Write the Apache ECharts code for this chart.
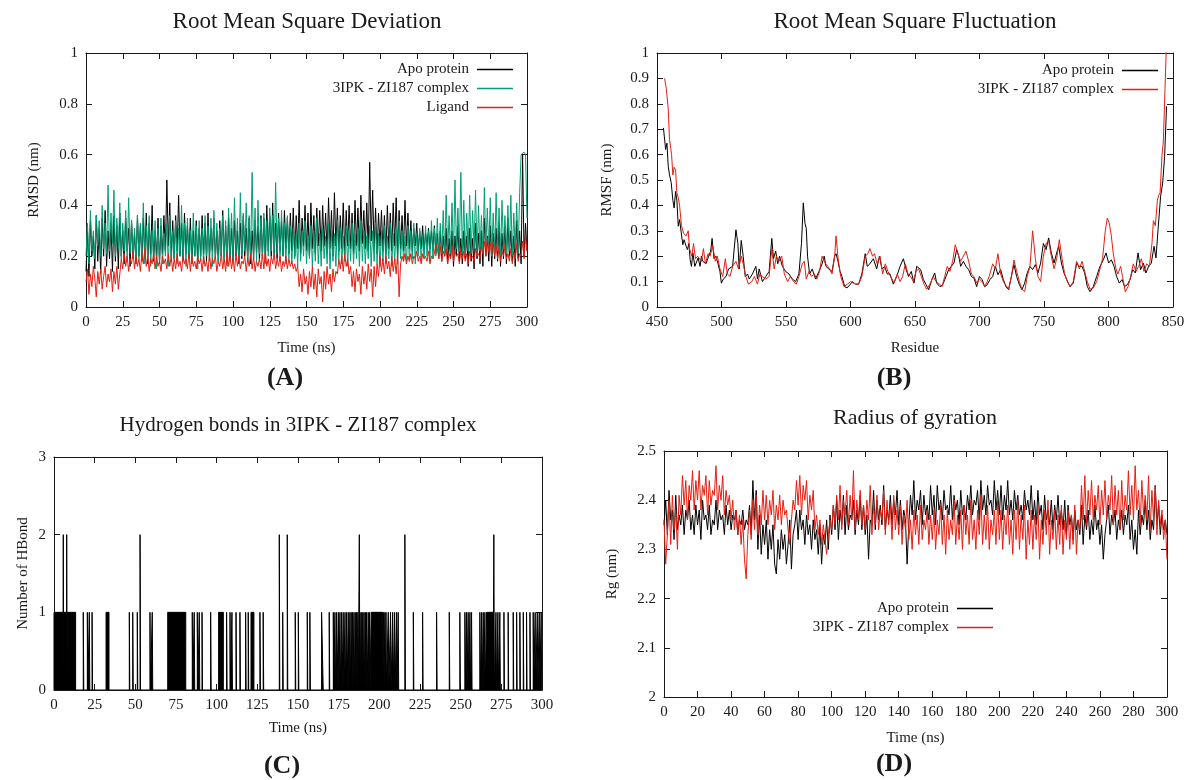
<!DOCTYPE html>
<html>
<head>
<meta charset="utf-8">
<title>3IPK - ZI187 MD analysis</title>
<script src="https://cdn.jsdelivr.net/npm/echarts@6/dist/echarts.min.js"></script>
<style>
  html, body { margin: 0; padding: 0; background: #fff; }
  #main { width: 1191px; height: 780px; }
</style>
</head>
<body>
<div id="main"></div>
<script>
// ---------- (A) RMSD, one value per ns (0..300) ----------
var rmsdStep = 1;
var rmsdApo = [
  0.14,0.3,0.12,0.34,0.2,0.28,0.15,0.36,0.18,0.31,0.13,0.35,0.2,0.38,0.16,0.3,0.19,0.33,0.14,0.36,
  0.18,0.32,0.15,0.37,0.2,0.3,0.17,0.35,0.22,0.31,0.16,0.34,0.19,0.29,0.17,0.36,0.2,0.32,0.18,0.35,
  0.19,0.37,0.17,0.33,0.21,0.4,0.18,0.3,0.2,0.35,0.17,0.32,0.21,0.36,0.22,0.5,0.24,0.41,0.2,0.34,
  0.19,0.36,0.22,0.44,0.2,0.33,0.18,0.37,0.21,0.32,0.19,0.35,0.17,0.3,0.2,0.34,0.18,0.31,0.2,0.36,
  0.21,0.33,0.18,0.37,0.2,0.31,0.22,0.35,0.19,0.3,0.18,0.34,0.2,0.38,0.19,0.32,0.17,0.35,0.19,0.31,
  0.18,0.34,0.2,0.3,0.17,0.33,0.19,0.36,0.2,0.31,0.18,0.35,0.17,0.3,0.19,0.34,0.21,0.32,0.18,0.36,
  0.2,0.35,0.19,0.4,0.22,0.36,0.2,0.41,0.21,0.33,0.19,0.37,0.22,0.34,0.2,0.38,0.23,0.35,0.21,0.37,
  0.22,0.39,0.2,0.36,0.23,0.42,0.21,0.35,0.24,0.4,0.22,0.37,0.2,0.41,0.23,0.36,0.21,0.39,0.24,0.38,
  0.22,0.4,0.24,0.37,0.21,0.43,0.23,0.38,0.2,0.45,0.24,0.39,0.22,0.36,0.23,0.41,0.21,0.38,0.24,0.4,
  0.23,0.37,0.21,0.42,0.24,0.39,0.22,0.44,0.25,0.38,0.23,0.41,0.22,0.57,0.26,0.46,0.23,0.39,0.21,0.37,
  0.24,0.38,0.22,0.36,0.21,0.4,0.23,0.37,0.22,0.41,0.24,0.43,0.21,0.38,0.23,0.36,0.22,0.42,0.24,0.37,
  0.23,0.34,0.22,0.31,0.24,0.33,0.22,0.3,0.23,0.32,0.22,0.29,0.24,0.31,0.23,0.3,0.22,0.32,0.21,0.29,
  0.2,0.3,0.18,0.28,0.21,0.31,0.17,0.27,0.19,0.3,0.16,0.28,0.2,0.32,0.18,0.27,0.17,0.3,0.19,0.28,
  0.16,0.31,0.18,0.27,0.15,0.33,0.19,0.29,0.17,0.3,0.16,0.35,0.2,0.28,0.18,0.32,0.16,0.29,0.19,0.31,
  0.18,0.33,0.16,0.29,0.19,0.32,0.17,0.35,0.2,0.3,0.18,0.28,0.16,0.34,0.19,0.3,0.17,0.6,0.2,0.33,
  0.22
];
var rmsdComplex = [
  0.2,0.33,0.17,0.38,0.22,0.3,0.19,0.36,0.24,0.34,0.2,0.4,0.23,0.33,0.21,0.48,0.22,0.37,0.25,0.46,
  0.2,0.35,0.23,0.41,0.19,0.33,0.22,0.38,0.18,0.43,0.21,0.34,0.2,0.31,0.17,0.36,0.19,0.33,0.2,0.41,
  0.17,0.32,0.2,0.36,0.16,0.3,0.19,0.34,0.15,0.31,0.18,0.35,0.17,0.29,0.2,0.33,0.16,0.36,0.18,0.3,
  0.19,0.34,0.17,0.31,0.2,0.4,0.18,0.33,0.16,0.35,0.19,0.3,0.17,0.37,0.2,0.32,0.15,0.34,0.18,0.31,
  0.17,0.36,0.2,0.32,0.18,0.35,0.16,0.38,0.19,0.33,0.17,0.31,0.2,0.36,0.18,0.34,0.16,0.39,0.2,0.37,
  0.19,0.43,0.21,0.35,0.18,0.45,0.2,0.37,0.22,0.41,0.19,0.36,0.21,0.53,0.2,0.39,0.18,0.42,0.21,0.35,
  0.19,0.37,0.17,0.34,0.2,0.39,0.22,0.36,0.19,0.49,0.21,0.35,0.18,0.38,0.2,0.33,0.17,0.36,0.19,0.32,
  0.17,0.31,0.19,0.29,0.16,0.33,0.18,0.3,0.2,0.34,0.17,0.28,0.19,0.32,0.16,0.3,0.18,0.35,0.17,0.29,
  0.16,0.31,0.19,0.28,0.17,0.33,0.15,0.3,0.18,0.29,0.16,0.34,0.19,0.31,0.17,0.28,0.18,0.32,0.16,0.3,
  0.18,0.33,0.17,0.29,0.19,0.31,0.16,0.34,0.18,0.3,0.17,0.28,0.19,0.32,0.16,0.3,0.18,0.33,0.17,0.29,
  0.16,0.3,0.18,0.32,0.17,0.28,0.19,0.33,0.16,0.29,0.18,0.31,0.17,0.34,0.19,0.3,0.18,0.28,0.17,0.32,
  0.18,0.3,0.19,0.33,0.17,0.29,0.2,0.31,0.18,0.28,0.19,0.32,0.2,0.3,0.18,0.34,0.19,0.31,0.2,0.35,
  0.19,0.33,0.21,0.38,0.2,0.44,0.22,0.36,0.21,0.41,0.2,0.5,0.23,0.39,0.22,0.53,0.21,0.42,0.2,0.37,
  0.22,0.44,0.21,0.38,0.23,0.46,0.2,0.4,0.22,0.36,0.21,0.47,0.23,0.39,0.22,0.43,0.2,0.37,0.21,0.45,
  0.22,0.39,0.2,0.42,0.23,0.36,0.21,0.4,0.22,0.44,0.2,0.37,0.23,0.41,0.21,0.45,0.6,0.6,0.61,0.6,
  0.35
];
var rmsdLigand = [
  0.1,0.15,0.05,0.13,0.08,0.16,0.11,0.04,0.14,0.09,0.15,0.07,0.12,0.16,0.08,0.13,0.1,0.15,0.06,0.14,
  0.09,0.16,0.07,0.13,0.19,0.15,0.21,0.16,0.2,0.14,0.19,0.17,0.22,0.15,0.2,0.16,0.19,0.14,0.21,0.17,
  0.23,0.16,0.2,0.14,0.19,0.17,0.21,0.15,0.2,0.16,0.18,0.14,0.2,0.17,0.19,0.15,0.21,0.16,0.2,0.14,
  0.19,0.15,0.21,0.16,0.18,0.14,0.2,0.17,0.19,0.15,0.21,0.14,0.2,0.16,0.18,0.15,0.2,0.17,0.19,0.14,
  0.2,0.16,0.18,0.14,0.21,0.15,0.19,0.17,0.2,0.14,0.18,0.16,0.21,0.15,0.19,0.14,0.22,0.16,0.2,0.15,
  0.19,0.14,0.21,0.16,0.2,0.15,0.18,0.17,0.2,0.14,0.19,0.16,0.21,0.15,0.2,0.14,0.18,0.16,0.19,0.15,
  0.21,0.15,0.22,0.16,0.19,0.14,0.2,0.17,0.21,0.15,0.19,0.16,0.2,0.14,0.18,0.16,0.2,0.15,0.19,0.16,
  0.18,0.15,0.17,0.14,0.16,0.08,0.13,0.06,0.15,0.09,0.12,0.05,0.14,0.08,0.16,0.07,0.13,0.04,0.15,0.09,
  0.12,0.02,0.14,0.07,0.16,0.09,0.13,0.06,0.15,0.1,0.14,0.13,0.19,0.15,0.2,0.14,0.21,0.16,0.19,0.13,
  0.16,0.08,0.14,0.06,0.15,0.1,0.13,0.05,0.16,0.09,0.14,0.07,0.17,0.1,0.15,0.04,0.16,0.08,0.17,0.12,
  0.2,0.14,0.19,0.13,0.2,0.15,0.18,0.12,0.2,0.14,0.19,0.13,0.21,0.04,0.17,0.2,0.18,0.21,0.17,0.2,
  0.18,0.21,0.17,0.2,0.19,0.22,0.18,0.2,0.17,0.21,0.19,0.2,0.18,0.22,0.17,0.2,0.19,0.21,0.25,0.23,
  0.19,0.24,0.18,0.22,0.2,0.23,0.17,0.21,0.19,0.24,0.18,0.22,0.2,0.21,0.17,0.23,0.19,0.22,0.18,0.21,
  0.17,0.22,0.19,0.2,0.18,0.23,0.2,0.21,0.19,0.24,0.21,0.26,0.2,0.27,0.22,0.25,0.21,0.26,0.2,0.24,
  0.19,0.23,0.18,0.22,0.2,0.24,0.19,0.21,0.18,0.23,0.17,0.22,0.19,0.25,0.18,0.21,0.2,0.26,0.19,0.28,
  0.22
];

// ---------- (B) RMSF, [residue, nm] ----------
var rmsfApo = [
  [455,0.705],[456.7,0.62],[457.7,0.645],[458.7,0.554],[459.7,0.52],[461,0.49],[462.3,0.42],[463.3,0.39],
  [464.4,0.455],[465.4,0.42],[466.5,0.318],[467.5,0.344],[468.5,0.337],[470,0.245],[471,0.265],[472.6,0.239],
  [473.6,0.226],[474.7,0.25],[475.7,0.186],[476.7,0.16],[477.8,0.213],[479.3,0.16],[480.8,0.167],[481.9,0.193],
  [483.4,0.16],[484.4,0.2],[485.5,0.18],[488,0.17],[490,0.2],[491.6,0.22],[492.7,0.27],[494.2,0.19],
  [495.7,0.2],[497.3,0.17],[498.8,0.14],[499.9,0.094],[501.4,0.11],[503.5,0.12],[505.5,0.15],[508.6,0.16],
  [511.2,0.304],[512.7,0.25],[513.7,0.15],[515.3,0.262],[516.8,0.2],[518.4,0.12],[520.2,0.13],[521.5,0.11],
  [524,0.13],[526.6,0.16],[527.9,0.11],[529.2,0.15],[531.7,0.1],[534.3,0.12],[536.9,0.14],[539,0.27],
  [540.3,0.19],[542,0.22],[543.6,0.17],[545,0.2],[547.2,0.16],[549.7,0.14],[552.3,0.13],[554.9,0.11],
  [557.5,0.1],[560,0.13],[562,0.25],[563.4,0.41],[564.7,0.33],[565.7,0.31],[566.7,0.2],[568.3,0.13],
  [570.3,0.15],[572.9,0.11],[575.5,0.14],[578,0.17],[579.6,0.2],[581,0.16],[583.1,0.15],[585.7,0.14],
  [587.7,0.2],[588.8,0.21],[590.3,0.18],[591.9,0.14],[593.4,0.12],[595.5,0.08],[597.3,0.075],[600,0.09],
  [601.3,0.1],[603.9,0.09],[606.3,0.09],[608.8,0.13],[611.4,0.21],[613,0.16],[615,0.17],[617.7,0.19],
  [620.3,0.15],[622.4,0.2],[624.4,0.15],[626.5,0.16],[628.5,0.13],[630.6,0.13],[633.2,0.09],[635.8,0.12],
  [638.4,0.16],[641,0.19],[643,0.15],[645,0.12],[647.1,0.14],[649.2,0.094],[651.3,0.16],[652.8,0.167],
  [654.4,0.147],[656.5,0.108],[658.6,0.088],[660.6,0.068],[663.2,0.11],[665.3,0.134],[666.8,0.094],[669.4,0.08],
  [671.5,0.088],[674,0.12],[676.1,0.147],[678.2,0.16],[680.2,0.173],[682.3,0.226],[683.9,0.2],[685.4,0.16],
  [687.5,0.18],[689.5,0.16],[691.6,0.147],[693.7,0.12],[695.7,0.114],[697.8,0.08],[699.9,0.12],[702,0.108],
  [704,0.08],[706,0.088],[708.1,0.108],[710.2,0.12],[712.3,0.16],[714.3,0.127],[716.4,0.147],[718.5,0.108],
  [720.5,0.08],[722.6,0.068],[724.7,0.12],[726.7,0.167],[728.8,0.12],[730.9,0.088],[732.9,0.068],[735,0.094],
  [737,0.134],[739.1,0.16],[741.2,0.147],[743.3,0.167],[745.3,0.134],[747.4,0.173],[749.5,0.25],[751.6,0.226],
  [753.6,0.272],[755.7,0.213],[757.8,0.173],[759.8,0.213],[761.4,0.239],[763.5,0.173],[765.5,0.134],[767.6,0.108],
  [770.2,0.08],[772.7,0.094],[775.3,0.173],[777.4,0.16],[779.5,0.16],[781.5,0.134],[783.6,0.08],[785.7,0.06],
  [788.2,0.08],[790.8,0.12],[793.4,0.16],[796,0.186],[798.1,0.213],[800.1,0.173],[802.2,0.186],[804.3,0.16],
  [806.3,0.12],[808.4,0.094],[810.5,0.108],[812.5,0.08],[814.6,0.088],[816.7,0.108],[818.7,0.147],[820.8,0.134],
  [822.9,0.213],[824.9,0.147],[827,0.173],[829,0.134],[831.1,0.16],[833.2,0.173],[835.3,0.239],[836.8,0.193],
  [838.4,0.304],[840.4,0.436],[842,0.488],[843.5,0.593],[845,0.79]
];
var rmsfComplex = [
  [455.9,0.9],[457.2,0.86],[458.7,0.78],[459.7,0.66],[461.3,0.6],[462.3,0.52],[463.3,0.55],[464.4,0.54],
  [465.4,0.45],[466.5,0.43],[467.5,0.4],[469,0.32],[470.6,0.29],[472.6,0.28],[474.2,0.3],[475.2,0.23],
  [477,0.2],[478.3,0.25],[479.9,0.19],[481.5,0.2],[482.9,0.2],[484.4,0.18],[486,0.23],[487.5,0.17],
  [489.6,0.21],[491.1,0.2],[493.2,0.24],[495.2,0.18],[496.8,0.2],[498.8,0.15],[500.9,0.12],[503,0.19],
  [504.5,0.13],[506.6,0.12],[508.6,0.16],[511.2,0.18],[513.2,0.15],[515.3,0.2],[516.8,0.17],[518.9,0.12],
  [520.9,0.09],[523.5,0.1],[525.5,0.12],[527.9,0.09],[529.7,0.13],[531.7,0.12],[534.3,0.11],[536.9,0.12],
  [539,0.23],[540.8,0.15],[542.5,0.2],[544.6,0.18],[546.7,0.2],[548.7,0.13],[551.3,0.1],[553.3,0.12],
  [555.9,0.1],[558,0.09],[560,0.12],[562.6,0.17],[564.2,0.18],[565.7,0.11],[567.8,0.14],[569.8,0.12],
  [571.9,0.13],[573.9,0.11],[576,0.14],[578,0.2],[580.6,0.17],[582.6,0.16],[585.7,0.13],[587.7,0.2],
  [588.8,0.28],[590.4,0.19],[592.4,0.12],[595,0.08],[597.6,0.09],[600,0.1],[601.3,0.1],[603.9,0.09],
  [606.3,0.09],[608.8,0.12],[611.4,0.2],[613.5,0.21],[615,0.23],[617.1,0.2],[618.6,0.21],[620.7,0.17],
  [622.9,0.2],[624.9,0.13],[627,0.17],[629,0.14],[631.1,0.12],[633.7,0.095],[636.3,0.13],[638.4,0.1],
  [640.4,0.12],[642.5,0.17],[644.6,0.13],[646.6,0.12],[648.7,0.1],[650.8,0.14],[652.8,0.15],[654.9,0.12],
  [657,0.09],[659,0.07],[661.6,0.09],[664.2,0.12],[666.3,0.1],[668.9,0.09],[671,0.08],[673,0.12],
  [675,0.16],[677.1,0.14],[679.2,0.18],[681.2,0.245],[683.3,0.21],[685.4,0.18],[687.5,0.2],[689.5,0.22],
  [691.6,0.18],[693.7,0.13],[695.7,0.12],[697.8,0.095],[699.9,0.11],[702,0.1],[704,0.08],[706,0.1],
  [708.1,0.13],[710.2,0.17],[712.3,0.15],[714.3,0.21],[716.4,0.13],[718.5,0.1],[720.5,0.085],[722.6,0.07],
  [724.7,0.12],[726.7,0.185],[728.8,0.14],[730.9,0.1],[732.9,0.07],[735,0.06],[737,0.12],[739.1,0.16],
  [741.2,0.3],[743.3,0.19],[745.3,0.12],[747.4,0.1],[749.5,0.2],[751.6,0.25],[753.6,0.26],[755.7,0.2],
  [757.8,0.15],[759.8,0.19],[761.9,0.265],[764,0.19],[766,0.13],[768.1,0.1],[770.2,0.08],[772.7,0.1],
  [775.3,0.18],[777.4,0.15],[779.5,0.18],[781.5,0.14],[783.6,0.1],[785.7,0.07],[788.2,0.075],[790.8,0.1],
  [793.4,0.15],[795.4,0.19],[797.5,0.3],[799.1,0.35],[800.6,0.33],[802.2,0.28],[803.7,0.21],[805.8,0.15],
  [807.3,0.13],[809.4,0.16],[810.9,0.12],[813,0.06],[815.1,0.08],[817.2,0.12],[819.2,0.17],[821.3,0.14],
  [823.4,0.16],[825.5,0.19],[827.5,0.14],[829.6,0.17],[831.7,0.16],[833.7,0.25],[834.8,0.34],[836.3,0.32],
  [837.9,0.42],[838.9,0.44],[840,0.45],[841.5,0.6],[842.5,0.65],[843.8,0.86],[845,1.05]
];

// ---------- (C) hydrogen bonds (ns) ----------
var hbOnes = [
  18.0, 20.5, 21.7, 23.4, 46.3, 48.4, 51.2, 59.0, 60.4, 85.0, 86.2, 88.1, 89.3, 91.0, 96.3,
  106.1, 108.2, 109.4, 111.9, 114.3, 117.8, 119.4, 126.6, 128.6, 140.6, 148.3, 150.2, 155.7, 157.3,
  169.2, 171.7, 172.7, 173.7, 174.8, 175.8, 176.8, 177.8, 178.9, 179.9, 180.9, 181.9, 182.7, 183.5,
  184.4, 185.2, 186.0, 186.8, 188.1, 188.9, 189.8, 190.6, 191.4, 192.2, 193.2, 194.0, 202.6, 203.4,
  204.1, 205.5, 206.9, 208.2, 209.4, 210.6, 211.6, 220.9, 226.6, 235.2, 243.0, 249.5, 252.6, 253.6,
  254.6, 255.7, 256.7, 261.8, 262.9, 263.9, 264.9, 271.7, 272.9, 274.1, 276.6, 279.2, 282.3, 284.4,
  286.4, 288.5, 290.5, 292.6, 294.6, 295.8, 297.1, 298.3, 299.5
];
var hbBlocks = [
  [0, 5.5], [6, 7.6], [8.1, 13.3], [32, 33.8], [69.9, 81], [101.2, 104.1],
  [121.1, 122.9], [164.5, 165.5], [195, 202], [265.9, 270]
];
var hbTwos = [5.7, 7.8, 52.9, 138.5, 143.4, 187.7, 215.7, 270.4];

// ---------- (D) radius of gyration, one value per ns ----------
var rgStep = 1;
var rgApo = [
  2.35,2.4,2.33,2.42,2.36,2.38,2.32,2.41,2.34,2.37,2.35,2.39,2.33,2.38,2.36,2.4,2.34,2.37,2.33,2.39,
  2.35,2.38,2.32,2.4,2.36,2.37,2.34,2.39,2.33,2.36,2.35,2.4,2.34,2.38,2.36,2.37,2.33,2.39,2.35,2.38,
  2.34,2.37,2.36,2.38,2.33,2.36,2.35,2.38,2.34,2.36,2.35,2.39,2.33,2.44,2.36,2.42,2.3,2.37,2.29,2.35,
  2.31,2.36,2.28,2.34,2.3,2.35,2.27,2.25,2.32,2.28,2.34,2.3,2.33,2.27,2.31,2.36,2.26,2.33,2.35,2.38,
  2.32,2.38,2.34,2.36,2.31,2.37,2.33,2.35,2.3,2.36,2.32,2.34,2.29,2.35,2.27,2.33,2.31,2.36,2.3,2.37,
  2.33,2.39,2.34,2.4,2.32,2.38,2.35,2.41,2.33,2.39,2.34,2.37,2.36,2.4,2.33,2.38,2.35,2.41,2.34,2.39,
  2.33,2.37,2.28,2.36,2.35,2.42,2.34,2.4,2.36,2.39,2.35,2.43,2.34,2.38,2.36,2.41,2.35,2.4,2.37,2.42,
  2.35,2.4,2.34,2.38,2.36,2.27,2.35,2.41,2.37,2.44,2.36,2.4,2.38,2.42,2.35,2.41,2.37,2.39,2.36,2.43,
  2.37,2.41,2.35,2.43,2.38,2.4,2.36,2.42,2.38,2.39,2.37,2.43,2.36,2.41,2.38,2.4,2.35,2.42,2.37,2.39,
  2.36,2.41,2.38,2.43,2.37,2.4,2.39,2.42,2.36,2.44,2.38,2.41,2.37,2.43,2.39,2.4,2.37,2.44,2.38,2.42,
  2.37,2.43,2.36,2.41,2.38,2.44,2.37,2.4,2.36,2.42,2.38,2.41,2.37,2.39,2.36,2.42,2.38,2.4,2.37,2.43,
  2.36,2.4,2.35,2.42,2.37,2.39,2.34,2.41,2.36,2.38,2.35,2.4,2.34,2.39,2.36,2.41,2.35,2.38,2.34,2.4,
  2.33,2.39,2.35,2.37,2.32,2.38,2.34,2.36,2.33,2.39,2.31,2.37,2.34,2.38,2.32,2.36,2.33,2.39,2.34,2.36,
  2.31,2.35,2.28,2.33,2.36,2.39,2.33,2.37,2.35,2.38,2.32,2.36,2.34,2.38,2.33,2.37,2.35,2.39,2.32,2.36,
  2.3,2.34,2.29,2.38,2.33,2.37,2.35,2.4,2.34,2.38,2.32,2.36,2.34,2.43,2.35,2.39,2.33,2.37,2.34,2.36,
  2.33
];
var rgComplex = [
  2.36,2.27,2.33,2.4,2.31,2.41,2.34,2.38,2.3,2.41,2.37,2.45,2.39,2.44,2.36,2.43,2.4,2.46,2.38,2.44,
  2.4,2.46,2.38,2.43,2.41,2.45,2.37,2.44,2.39,2.42,2.41,2.47,2.38,2.43,2.4,2.45,2.37,2.42,2.39,2.41,
  2.36,2.4,2.34,2.38,2.33,2.37,2.31,2.36,2.28,2.24,2.33,2.38,2.32,2.4,2.34,2.41,2.33,2.39,2.35,2.42,
  2.36,2.41,2.35,2.4,2.37,2.42,2.34,2.39,2.36,2.41,2.35,2.4,2.37,2.38,2.34,2.31,2.36,2.4,2.38,2.44,
  2.39,2.45,2.37,2.43,2.4,2.44,2.36,2.41,2.38,2.42,2.34,2.37,2.33,2.36,2.31,2.35,2.32,2.29,2.33,2.36,
  2.34,2.39,2.35,2.41,2.36,2.43,2.34,2.4,2.37,2.42,2.35,2.41,2.36,2.46,2.34,2.4,2.36,2.42,2.35,2.39,
  2.34,2.4,2.36,2.43,2.33,2.39,2.35,2.41,2.34,2.38,2.36,2.42,2.33,2.4,2.35,2.39,2.32,2.41,2.34,2.38,
  2.33,2.39,2.31,2.37,2.34,2.4,2.32,2.36,2.3,2.38,2.33,2.37,2.31,2.39,2.32,2.36,2.34,2.38,2.31,2.37,
  2.32,2.38,2.3,2.36,2.33,2.39,2.31,2.37,2.29,2.38,2.32,2.36,2.33,2.4,2.31,2.37,2.32,2.38,2.3,2.39,
  2.33,2.37,2.31,2.4,2.32,2.36,2.3,2.38,2.33,2.41,2.31,2.37,2.32,2.39,2.3,2.36,2.33,2.38,2.31,2.4,
  2.32,2.38,2.3,2.37,2.33,2.39,2.31,2.36,2.29,2.38,2.32,2.4,2.3,2.37,2.32,2.39,2.28,2.36,2.31,2.38,
  2.3,2.37,2.32,2.39,2.28,2.36,2.31,2.38,2.33,2.4,2.29,2.36,2.32,2.38,2.3,2.37,2.31,2.39,2.29,2.36,
  2.32,2.38,2.3,2.37,2.31,2.39,2.29,2.36,2.34,2.43,2.36,2.45,2.35,2.42,2.37,2.44,2.36,2.41,2.38,2.43,
  2.35,2.42,2.37,2.44,2.36,2.41,2.38,2.45,2.35,2.43,2.37,2.42,2.34,2.44,2.36,2.41,2.38,2.46,2.37,2.43,
  2.36,2.47,2.38,2.42,2.35,2.44,2.37,2.41,2.36,2.45,2.34,2.42,2.36,2.43,2.33,2.4,2.35,2.38,2.32,2.36,
  2.28
];

var FONT = '"Liberation Serif", "Times New Roman", serif';
var INK = '#1a1a1a';
var GREEN = '#009e73';
var RED = '#e51e10';

function timed(values, step) {
  return values.map(function (v, i) { return [i * step, v]; });
}

// hydrogen-bond count as a step trace built from the event lists
var hbEvents = [];
hbOnes.forEach(function (t) { hbEvents.push([t, t + 0.3, 1]); });
hbTwos.forEach(function (t) { hbEvents.push([t, t + 0.3, 2]); });
hbBlocks.forEach(function (b) { hbEvents.push([b[0], b[1], 1]); });
hbEvents.sort(function (a, b) { return a[0] - b[0]; });
var hbData = [];
hbEvents.forEach(function (e) {
  hbData.push([e[0], 0], [e[0], e[2]], [e[1], e[2]], [e[1], 0]);
});
hbData.push([300, 0]);

// box frame: labelled axis + mirrored axis, ticks pointing inward
function axisPair(grid, min, max, step, name, gap, sides) {
  var base = {
    gridIndex: grid, type: 'value', min: min, max: max, interval: step,
    axisLine: { onZero: false, lineStyle: { color: INK, width: 1 } },
    axisTick: { inside: true, length: 6, lineStyle: { color: INK } },
    splitLine: { show: false }
  };
  var main = Object.assign({}, base, {
    position: sides[0],
    name: name, nameLocation: 'middle', nameGap: gap,
    nameTextStyle: { fontFamily: FONT, fontSize: 15, color: INK },
    axisLabel: { fontFamily: FONT, fontSize: 15, color: INK, margin: 8 }
  });
  var mirror = Object.assign({}, base, { position: sides[1], axisLabel: { show: false } });
  return [main, mirror];
}

function trace(name, xi, color, data, extra) {
  return Object.assign({
    name: name, type: 'line', xAxisIndex: xi, yAxisIndex: xi,
    data: data, symbol: 'none', showSymbol: false, silent: true,
    lineStyle: { color: color, width: 1 }, itemStyle: { color: color }
  }, extra || {});
}

function legendAt(names, right, top) {
  return {
    data: names, orient: 'vertical', align: 'right', right: right, top: top,
    padding: 0, icon: 'rect', itemWidth: 36, itemHeight: 1.5, itemGap: 4, selectedMode: false,
    formatter: function (n) { return n.split('|')[1]; },
    textStyle: { fontFamily: FONT, fontSize: 15, color: INK, padding: [0, 3, 0, 0] }
  };
}

function label(text, x, y, size, bold) {
  return {
    text: text, left: x, top: y, padding: 0,
    textAlign: 'center', textVerticalAlign: 'middle',
    textStyle: { fontFamily: FONT, fontSize: size, fontWeight: bold ? 'bold' : 'normal', color: INK }
  };
}

var chart = echarts.init(document.getElementById('main'));
chart.setOption({
  animation: false,
  backgroundColor: '#fff',
  title: [
    label('Root Mean Square Deviation', 307, 22, 23),
    label('Root Mean Square Fluctuation', 915, 22, 23),
    label('Hydrogen bonds in 3IPK - ZI187 complex', 298, 425, 21),
    label('Radius of gyration', 915, 418, 22),
    label('(A)', 285, 378, 26, true),
    label('(B)', 894, 378, 26, true),
    label('(C)', 282, 766, 26, true),
    label('(D)', 894, 764, 26, true)
  ],
  grid: [
    { left: 86, top: 53, width: 441, height: 254 },
    { left: 657, top: 53, width: 516, height: 254 },
    { left: 54, top: 457, width: 488, height: 233 },
    { left: 664, top: 451, width: 503, height: 246 }
  ],
  xAxis: [].concat(
    axisPair(0, 0, 300, 25, 'Time (ns)', 34, ['bottom', 'top']),
    axisPair(1, 450, 850, 50, 'Residue', 34, ['bottom', 'top']),
    axisPair(2, 0, 300, 25, 'Time (ns)', 31, ['bottom', 'top']),
    axisPair(3, 0, 300, 20, 'Time (ns)', 34, ['bottom', 'top'])
  ),
  yAxis: [].concat(
    axisPair(0, 0, 1, 0.2, 'RMSD (nm)', 44, ['left', 'right']),
    axisPair(1, 0, 1, 0.1, 'RMSF (nm)', 42, ['left', 'right']),
    axisPair(2, 0, 3, 1, 'Number of HBond', 23, ['left', 'right']),
    axisPair(3, 2, 2.5, 0.1, 'Rg (nm)', 44, ['left', 'right'])
  ),
  legend: [
    legendAt(['A|Apo protein', 'A|3IPK - ZI187 complex', 'A|Ligand'], 678, 62),
    legendAt(['B|Apo protein', 'B|3IPK - ZI187 complex'], 33, 63),
    legendAt(['D|Apo protein', 'D|3IPK - ZI187 complex'], 198, 601)
  ],
  series: [
    trace('A|Apo protein', 0, '#000', timed(rmsdApo, rmsdStep)),
    trace('A|3IPK - ZI187 complex', 0, GREEN, timed(rmsdComplex, rmsdStep)),
    trace('A|Ligand', 0, RED, timed(rmsdLigand, rmsdStep)),
    trace('B|Apo protein', 2, '#000', rmsfApo),
    trace('B|3IPK - ZI187 complex', 2, RED, rmsfComplex),
    trace('C|HBond', 4, '#000', hbData, { areaStyle: { color: '#000', opacity: 1 } }),
    trace('D|Apo protein', 6, '#000', timed(rgApo, rgStep)),
    trace('D|3IPK - ZI187 complex', 6, RED, timed(rgComplex, rgStep))
  ]
});
</script>
</body>
</html>
